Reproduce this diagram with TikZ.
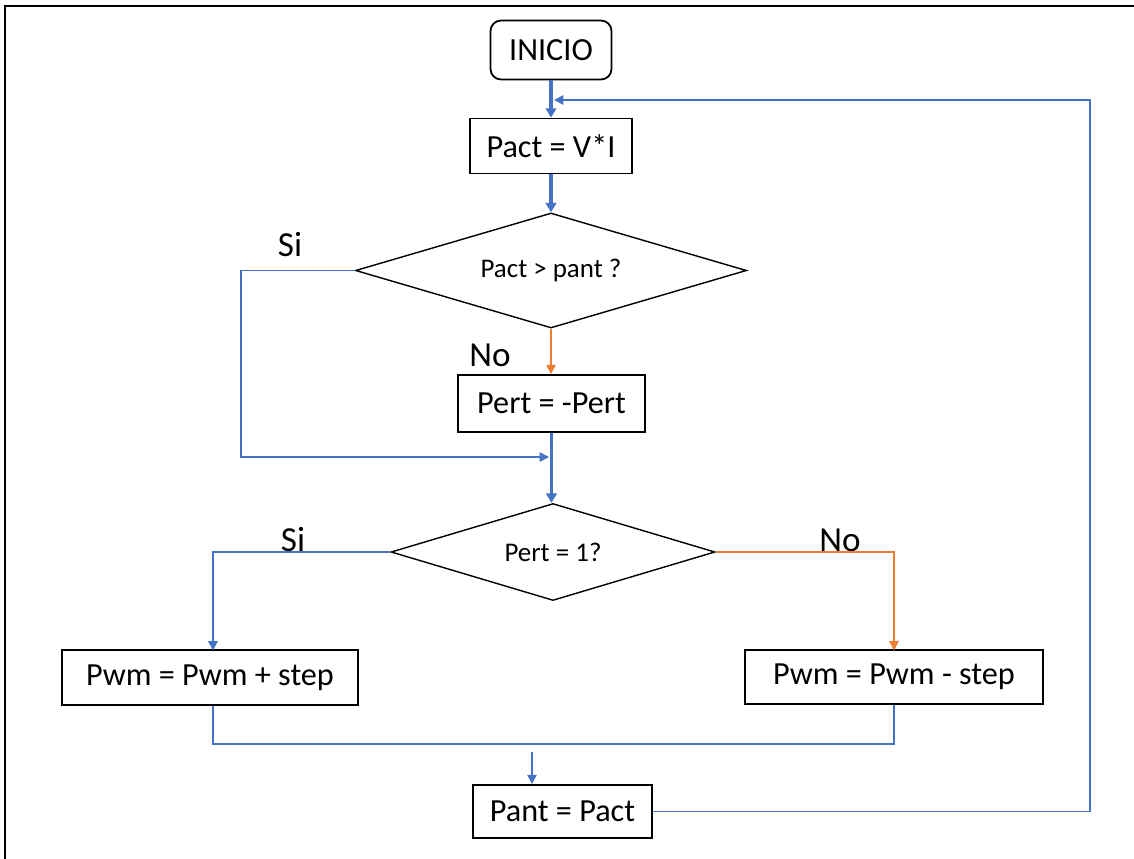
\documentclass[tikz,border=0pt]{standalone}
\usepackage{fontspec}
\setmainfont{Carlito}
\usetikzlibrary{arrows.meta,shapes.geometric}
\definecolor{lineblue}{RGB}{68,114,196}
\definecolor{lineorange}{RGB}{237,125,49}
\tikzset{
  procbox/.style={draw=black,line width=1.5pt,fill=white,inner sep=0pt,
    font=\fontsize{27.5}{33}\selectfont},
  startbox/.style={procbox,rounded corners=9pt},
  decision/.style={diamond,draw=black,line width=1.2pt,inner sep=0pt,
    font=\fontsize{23}{27}\selectfont},
  answer/.style={font=\fontsize{30}{36}\selectfont},
  thinflow/.style={draw=lineblue,line width=1.5pt,-{Triangle[length=8pt,width=8pt]}},
  thickflow/.style={draw=lineblue,line width=3.2pt,-{Triangle[length=8pt,width=9pt]}},
  noflow/.style={draw=lineorange,line width=1.5pt,-{Triangle[length=8pt,width=8pt]}},
  plainflow/.style={draw=lineblue,line width=1.5pt}
}
\begin{document}
\begin{tikzpicture}[x=0.03cm,y=-0.03cm]
\useasboundingbox (0,0) rectangle (1134,859);
% page frame, top and left edges
\draw[line width=1.8pt] (5,859) -- (5,6) -- (1134,6);

% blocks
\node[startbox,minimum width=3.63cm,minimum height=1.77cm] (inicio) at (551,50) {INICIO};
\node[procbox,minimum width=4.86cm,minimum height=1.65cm] (pact) at (551,146) {Pact = V*I};
\node[decision,minimum width=11.73cm,minimum height=3.45cm,aspect=3.4] (d1) at (551,270.5) {Pact > pant ?};
\node[procbox,minimum width=5.61cm,minimum height=1.71cm] (pert) at (551.5,403.5) {Pert = -Pert};
\node[decision,minimum width=9.72cm,minimum height=2.91cm,aspect=3.34] (d2) at (553,552) {Pert = 1?};
\node[procbox,minimum width=8.88cm,minimum height=1.65cm] (inc) at (210,677.5) {Pwm = Pwm + step};
\node[procbox,minimum width=8.94cm,minimum height=1.62cm] (dec) at (894,677) {Pwm = Pwm - step};
\node[procbox,minimum width=5.37cm,minimum height=1.59cm] (pant) at (562.5,811.5) {Pant = Pact};

% branch labels
\node[answer] (si1) at (290,245) {Si};
\node[answer] (no1) at (490,355) {No};
\node[answer] (si2) at (293,540) {Si};
\node[answer] (no2) at (840,540) {No};

% helper points
\coordinate (loopL) at (241,457);
\coordinate (joinR) at (549,457);
\coordinate (incTop) at (213,650.5);
\coordinate (decTop) at (894,650.5);
\coordinate (merge) at (213,744);
\coordinate (toPant) at (532,752);
\coordinate (fbR) at (1090,100);
\coordinate (fbEnd) at (554,100);

% main flow
\draw[thickflow] (inicio.south) -- (inicio.south |- pact.north);
\draw[thickflow] (pact.south) -- (pact.south |- d1.north);
\draw[noflow] (d1.south) -- (d1.south |- pert.north);
\draw[thickflow] (pert.south) -- (pert.south |- d2.north);

% "Si" bypass around Pert = -Pert
\draw[thinflow] (d1.west) -| (loopL) -- (joinR);

% second decision branches
\draw[thinflow] (d2.west) -| (incTop);
\draw[noflow] (d2.east) -| (decTop);

% merge of both branches
\draw[plainflow] (inc.south -| incTop) |- (merge -| decTop) -- (dec.south -| decTop);
\draw[thinflow] (toPant) -- (toPant |- pant.north);

% feedback to the top
\draw[thinflow] (pant.east) -| (fbR) -- (fbEnd);
\end{tikzpicture}
\end{document}
